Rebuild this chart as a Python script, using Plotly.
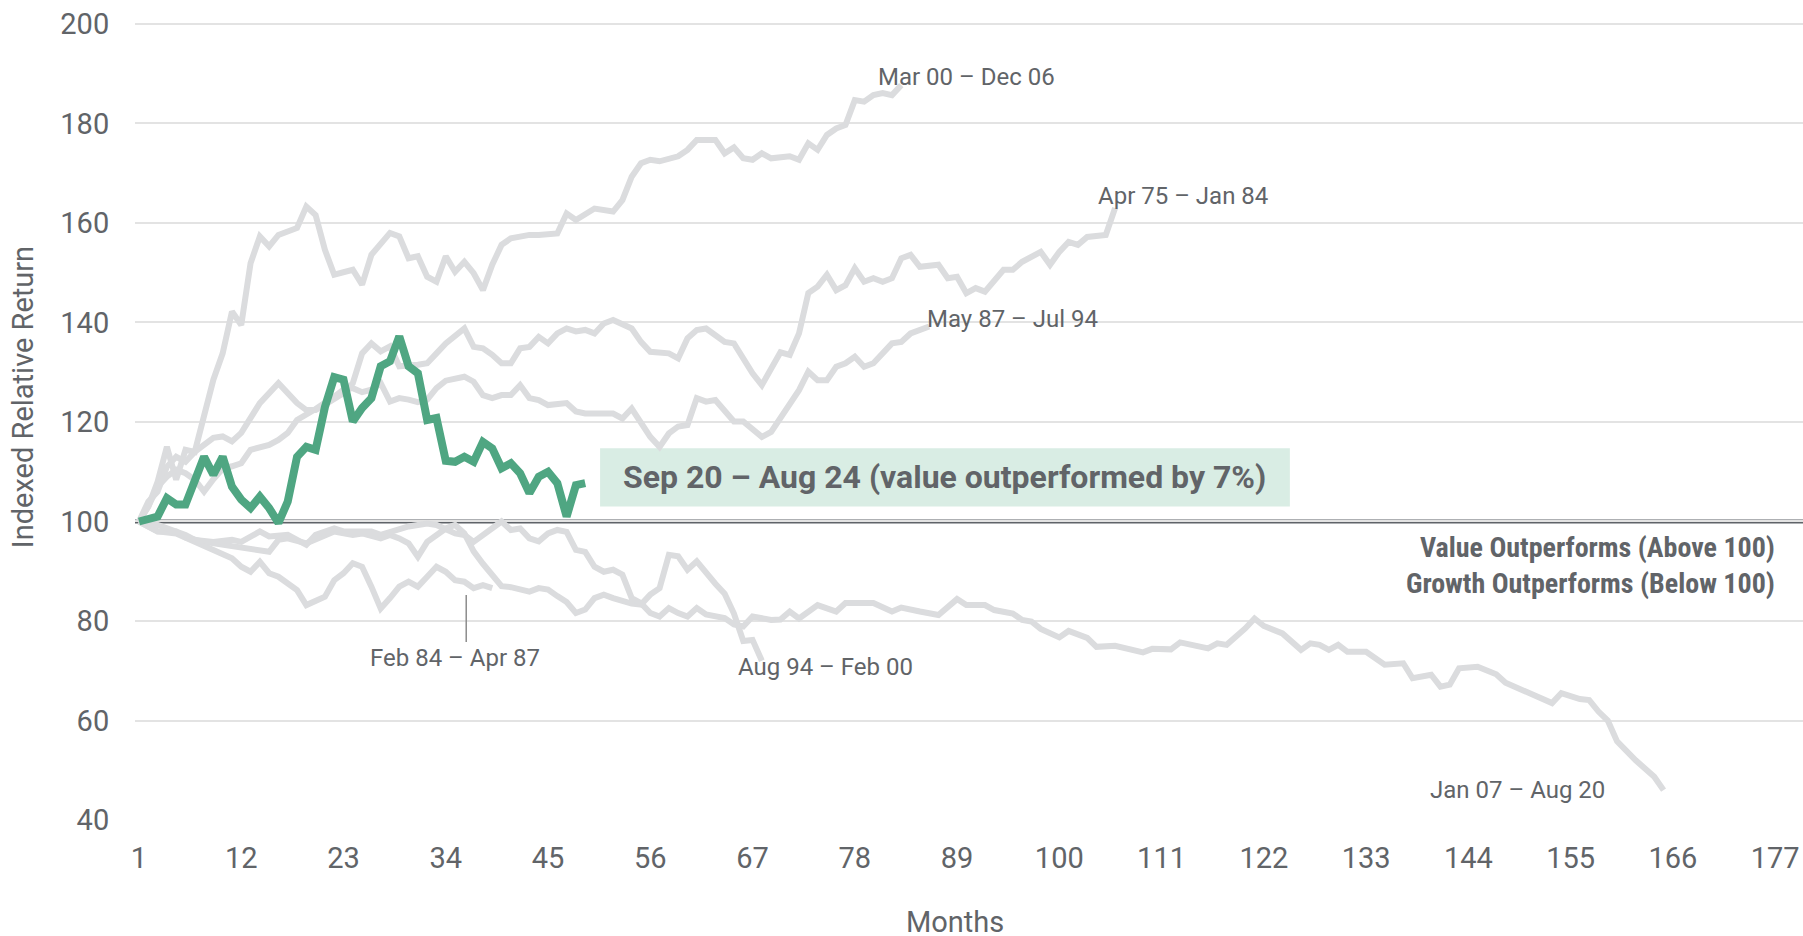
"""
Value vs growth cycles: indexed relative return of each value-led run,
with the current cycle (Sep 20 - Aug 24) picked out in green.
"""

import plotly.graph_objects as go


# ── Data (months since start of cycle, indexed relative return) ───────────────
month_ticks = [1, 12, 23, 34, 45, 56, 67, 78, 89, 100, 111, 122, 133, 144, 155, 166, 177]
value_ticks = [40, 60, 80, 100, 120, 140, 160, 180, 200]

mar00_months = [1, 2, 3, 4, 5, 6, 7, 8, 9, 10, 11, 12, 13, 14, 15, 16, 18, 19, 20, 21,
                22, 24, 25, 26, 28, 29, 30, 31, 32, 33, 34, 35, 36, 37, 38, 39, 40, 41,
                43, 44, 46, 47, 48, 50, 52, 53, 54, 55, 56, 57, 58, 59, 60, 61, 63, 64,
                65, 66, 67, 68, 69, 71, 72, 73, 74, 75, 76, 77, 78, 79, 80, 81, 82, 83]
mar00_values = [100, 103, 108, 115, 108.4, 114.4, 114, 121.8, 128.5, 133.8, 142.2, 139.5,
                151.9, 157.3, 155.3, 157.6, 159, 163.3, 161.6, 154.6, 149.6, 150.6, 147.6,
                153.6, 158, 157.3, 152.9, 153.3, 149.2, 148.2, 153.3, 150.2, 152.2, 149.9,
                146.5, 151.6, 155.6, 156.9, 157.6, 157.6, 157.9, 161.9, 160.6, 162.9, 162.3,
                164.6, 169.3, 172, 172.7, 172.4, 173, 173.4, 174.7, 176.7, 176.7, 174, 175.2,
                173, 172.7, 174, 173, 173.4, 172.7, 176, 174.7, 177.7, 179, 179.7, 184.7,
                184.4, 185.7, 186.1, 185.7, 187.7]

apr75_months = [1, 2, 3, 4, 5, 6, 7, 8, 9, 10, 11, 12, 13, 14, 16, 17, 18, 19, 20, 21, 22,
                23, 24, 25, 26, 27, 28, 29, 31, 32, 33, 34, 36, 37, 38, 39, 40, 41, 42, 43,
                44, 45, 46, 47, 48, 49, 50, 51, 52, 53, 54, 55, 56, 58, 59, 60, 61, 62, 63,
                64, 65, 66, 67, 68, 69, 70, 71, 72, 73, 74, 75, 76, 77, 78, 79, 80, 81, 82,
                83, 84, 85, 87, 88, 89, 90, 91, 92, 93, 94, 95, 96, 98, 99, 100, 101, 102,
                103, 105, 106]
apr75_values = [100, 104, 106, 111, 113, 112, 114, 115.5, 116.8, 117.1, 116.1, 117.8,
                120.8, 123.8, 127.8, 125.8, 123.8, 122.4, 122.4, 123.5, 124.5, 125.8, 127.8,
                133.8, 135.8, 134.2, 135.2, 131.2, 131.5, 131.8, 133.8, 135.8, 138.8, 135.1,
                134.8, 133.5, 131.8, 131.8, 134.8, 135.1, 137.1, 135.8, 137.8, 138.8, 138.2,
                138.5, 137.8, 139.8, 140.5, 139.5, 138.8, 136.1, 134.1, 133.8, 132.8, 136.8,
                138.5, 138.8, 137.5, 136.1, 135.8, 132.8, 129.8, 127.4, 130.8, 134, 133.5,
                137.8, 145.9, 147.2, 149.6, 146.5, 147.5, 150.9, 148.2, 148.9, 148.2, 148.9,
                152.9, 153.6, 151.2, 151.6, 148.9, 149.2, 145.9, 146.9, 146.2, 148.2, 150.6,
                150.6, 152.2, 154.2, 151.6, 154.2, 156.2, 155.6, 157.2, 157.6, 163]

may87_months = [1, 2, 3, 4, 5, 6, 7, 8, 9, 10, 11, 12, 13, 15, 16, 17, 18, 19, 20, 22, 23,
                24, 25, 26, 27, 28, 29, 30, 31, 32, 33, 34, 35, 36, 37, 38, 39, 40, 41, 42,
                43, 44, 45, 47, 48, 49, 52, 53, 54, 55, 56, 57, 58, 59, 60, 61, 62, 63, 64,
                65, 66, 67, 68, 69, 70, 71, 72, 73, 74, 75, 76, 77, 78, 79, 80, 82, 83, 84,
                86]
may87_values = [100, 103, 107, 109, 110.4, 109.7, 108.4, 106, 108.5, 110.6, 111.1, 111.7,
                114.4, 115.4, 116.4, 117.8, 120.4, 121.4, 122.6, 125.1, 126.5, 126.8, 126,
                126.5, 127.8, 124.1, 124.8, 124.5, 124, 124.5, 126.8, 128.3, 128.8, 129.1,
                128.1, 125.4, 124.8, 125.4, 125.4, 127.4, 124.8, 124.4, 123.4, 123.8, 122.1,
                121.7, 121.7, 120.7, 122.7, 119.7, 117, 115, 117.7, 119.1, 119.4, 124.8,
                124.1, 124.4, 122.1, 120.1, 120.1, 118.4, 117, 118, 120.8, 123.1, 126.4,
                130.1, 128.4, 128.4, 131.1, 131.8, 133.1, 131.1, 131.8, 135.8, 136.1, 137.8,
                139.2]

feb84_months = [1, 3, 5, 7, 9, 11, 12, 13, 14, 15, 16, 18, 19, 21, 22, 23, 24, 25, 26, 27,
                28, 29, 30, 31, 32, 33, 34, 35, 36, 37, 38, 39]
feb84_values = [100, 98, 97.6, 95.9, 94.3, 92.6, 90.9, 89.9, 91.9, 89.6, 88.9, 86.2, 83.2,
                84.9, 88.2, 89.6, 91.6, 90.9, 86.9, 82.5, 84.6, 86.9, 87.9, 86.9, 88.9, 90.9,
                89.9, 88.2, 87.9, 86.6, 87.2, 86.6]

aug94_months = [1, 3, 5, 6, 8, 10, 12, 13, 15, 16, 17, 19, 21, 22, 24, 25, 27, 28, 29, 30,
                31, 32, 34, 35, 36, 37, 38, 39, 40, 41, 43, 44, 45, 46, 47, 48, 49, 50, 51,
                52, 54, 55, 56, 57, 58, 59, 60, 61, 62, 63, 64, 65, 66, 67, 68]
aug94_values = [100, 98, 98, 96.8, 95.9, 95.3, 94.6, 94.3, 93.9, 96.3, 96.6, 95.6, 97, 98,
                97.3, 97.6, 96.6, 97.3, 96.6, 95.6, 92.9, 95.9, 98.6, 99.3, 97.6, 94, 91.5,
                89, 87, 86.8, 85.9, 86.6, 86.3, 85, 83.8, 81.6, 82.3, 84.6, 85.3, 84.6, 83.5,
                83.3, 85.3, 86.6, 93.3, 93, 90.3, 92, 89.5, 87.5, 85.5, 81.5, 76, 76.2, 72]

jan07_months = [1, 3, 6, 7, 9, 11, 12, 14, 15, 17, 19, 20, 22, 23, 25, 26, 27, 29, 30, 32,
                33, 35, 36, 37, 38, 40, 41, 42, 43, 44, 45, 46, 47, 48, 49, 50, 51, 52, 53,
                54, 55, 56, 57, 58, 59, 60, 61, 62, 64, 65, 66, 67, 69, 70, 71, 72, 74, 76,
                77, 80, 82, 83, 85, 87, 89, 90, 92, 93, 95, 96, 97, 98, 100, 101, 103, 104,
                106, 109, 110, 112, 113, 114, 116, 117, 118, 120, 121, 122, 124, 126, 127,
                128, 129, 130, 131, 133, 135, 137, 138, 140, 141, 142, 143, 145, 147, 148,
                150, 151, 153, 154, 156, 157, 158, 159, 160, 162, 164, 165]
jan07_values = [100, 99.3, 97.3, 96.3, 95.9, 96.3, 95.9, 98, 97, 97.3, 95.3, 97.3, 98.6, 98,
                98, 98, 97.3, 98.3, 99, 99.6, 99.3, 97.6, 97.3, 95.9, 97.3, 100, 98.3, 98.6,
                96.6, 96, 97.6, 98.3, 97.9, 94.3, 93.9, 90.9, 89.9, 90.3, 89.3, 84.6, 83.6,
                81.6, 80.9, 82.6, 81.6, 80.9, 82.6, 81.3, 80.6, 79.3, 78.9, 80.9, 80.2, 80.3,
                81.9, 80.5, 83.2, 81.9, 83.6, 83.6, 81.9, 82.7, 81.9, 81.2, 84.4, 83.2, 83.2,
                82.2, 81.5, 80.2, 79.9, 78.4, 76.7, 78, 76.6, 74.8, 75, 73.7, 74.4, 74.3, 75.7,
                75.3, 74.5, 75.5, 75.2, 78.5, 80.5, 79, 77.5, 74.2, 75.5, 75.2, 74.2, 75.2,
                73.8, 73.8, 71.2, 71.5, 68.5, 69.2, 66.8, 67.2, 70.5, 70.8, 69.3, 67.6, 66,
                65.3, 63.5, 65.5, 64.3, 64.1, 61.8, 60, 55.8, 52, 48.7, 46]

sep20_months = [1, 3, 4, 5, 6, 8, 9, 10, 11, 12, 13, 14, 15, 16, 17, 18, 19, 20, 21, 22, 23,
                24, 25, 26, 27, 28, 29, 30, 31, 32, 33, 34, 35, 36, 37, 38, 39, 40, 41, 42,
                43, 44, 45, 46, 47, 48, 49]
sep20_values = [100, 101, 104.7, 103.4, 103.4, 113, 109.4, 113, 107, 104.4, 102.7, 105,
                102.7, 99.7, 104, 113, 115, 114.4, 123, 129, 128.5, 120.1, 122.8, 124.8,
                131.2, 132.2, 137.2, 131.2, 129.8, 120.4, 120.8, 112.2, 112, 113, 112, 116,
                114.7, 110.7, 111.7, 109.7, 105.7, 109, 110, 107.7, 101, 107.3, 107.7]

past_cycles = [
    ("Mar 00 – Dec 06", mar00_months, mar00_values),
    ("Apr 75 – Jan 84", apr75_months, apr75_values),
    ("May 87 – Jul 94", may87_months, may87_values),
    ("Feb 84 – Apr 87", feb84_months, feb84_values),
    ("Aug 94 – Feb 00", aug94_months, aug94_values),
    ("Jan 07 – Aug 20", jan07_months, jan07_values),
]

# ── Colours / fonts ───────────────────────────────────────────────────────────
_GREY_LINE  = "#dbdcde"
_GREEN      = "#4fa682"
_BOX_FILL   = "#d9ede4"
_TEXT       = "#616468"
_BASE_LINE  = "#5f6368"
_GRID       = "#e3e3e3"
_FONT       = "Roboto, Arial, sans-serif"
_NARROW     = "'Roboto Condensed', 'Liberation Sans Narrow', 'DejaVu Sans Condensed', Roboto, sans-serif"
_BIG        = 29      # ticks and axis titles


fig = go.Figure()

for name, months, values in past_cycles:
    fig.add_trace(go.Scatter(
        x          = months,
        y          = values,
        mode       = "lines",
        name       = name,
        line       = dict(color=_GREY_LINE, width=6),
        showlegend = False,
    ))

fig.add_trace(go.Scatter(
    x          = sep20_months,
    y          = sep20_values,
    mode       = "lines",
    name       = "Sep 20 – Aug 24",
    line       = dict(color=_GREEN, width=8),
    showlegend = False,
))

# ── Reference line, highlight box, pointer ────────────────────────────────────
shapes = [
    dict(type="line", xref="paper", x0=0, x1=1, yref="y", y0=100, y1=100,
         line=dict(color=_BASE_LINE, width=4), layer="between"),
    dict(type="rect", xref="x", x0=50.6, x1=124.8, yref="y", y0=103.0, y1=114.7,
         fillcolor=_BOX_FILL, line=dict(width=0), layer="between"),
    dict(type="line", xref="x", x0=36.2, x1=36.2, yref="y", y0=85.2, y1=75.8,
         line=dict(color="#8c8c8c", width=1.5)),
]

# cycle labels (x in months, y in index units)
label_pos = {
    "Mar 00 – Dec 06": (90.0, 189.4),
    "Apr 75 – Jan 84": (113.3, 165.4),
    "May 87 – Jul 94": (95.0, 140.7),
    "Feb 84 – Apr 87": (35.0, 72.6),
    "Aug 94 – Feb 00": (74.8, 70.8),
    "Jan 07 – Aug 20": (149.3, 46.0),
}
annotations = [
    dict(x=x, y=y, xref="x", yref="y", text=txt, showarrow=False,
         font=dict(family=_FONT, size=24, color=_TEXT))
    for txt, (x, y) in label_pos.items()
]

annotations += [
    dict(x=52.8, y=108.85, xref="x", yref="y", xanchor="left",
         text="<b>Sep 20 – Aug 24 (value outperformed by 7%)</b>", showarrow=False,
         font=dict(family=_FONT, size=32, color=_TEXT)),
    dict(x=177.2, y=94.7, xref="x", yref="y", xanchor="right",
         text="<b>Value Outperforms (Above 100)</b>", showarrow=False,
         font=dict(family=_NARROW, size=28, color=_TEXT)),
    dict(x=177.2, y=87.6, xref="x", yref="y", xanchor="right",
         text="<b>Growth Outperforms (Below 100)</b>", showarrow=False,
         font=dict(family=_NARROW, size=28, color=_TEXT)),
    dict(x=-0.0671, y=0.528, xref="paper", yref="paper", textangle=-90,
         xanchor="center", yanchor="middle",
         text="Indexed Relative Return", showarrow=False,
         font=dict(family=_FONT, size=_BIG, color=_TEXT)),
    dict(x=0.4916, y=-0.1273, xref="paper", yref="paper",
         xanchor="center", yanchor="middle",
         text="Months", showarrow=False,
         font=dict(family=_FONT, size=_BIG, color=_TEXT)),
]

# y range runs one unit past 200 so the top gridline / label are kept
fig.update_layout(
    width         = 1803,
    height        = 936,
    paper_bgcolor = "#ffffff",
    plot_bgcolor  = "#ffffff",
    font          = dict(family=_FONT, color=_TEXT, size=_BIG),
    margin        = dict(l=135, r=0, t=19, b=116),
    showlegend    = False,
    shapes        = shapes,
    annotations   = annotations,

    xaxis = dict(
        range             = [0.57, 180.0],
        tickvals          = month_ticks,
        ticktext          = [str(m) for m in month_ticks],
        showgrid          = False,
        zeroline          = False,
        showline          = False,
        ticks             = "outside",
        ticklen           = 12,
        tickcolor         = "rgba(0,0,0,0)",
        tickfont          = dict(size=_BIG, color=_TEXT),
        ticklabeloverflow = "allow",
    ),
    yaxis = dict(
        range             = [40, 201],
        tickvals          = value_ticks,
        showgrid          = True,
        gridcolor         = _GRID,
        gridwidth         = 2,
        zeroline          = False,
        showline          = False,
        ticks             = "outside",
        ticklen           = 19,
        tickcolor         = "rgba(0,0,0,0)",
        tickfont          = dict(size=_BIG, color=_TEXT),
        ticklabeloverflow = "allow",
    ),
)

# drop the default 8px body margin so the figure fills the window exactly
fig.write_html(
    "out.html",
    config      = {"displayModeBar": False},
    post_script = "document.body.style.margin = '0';",
)
